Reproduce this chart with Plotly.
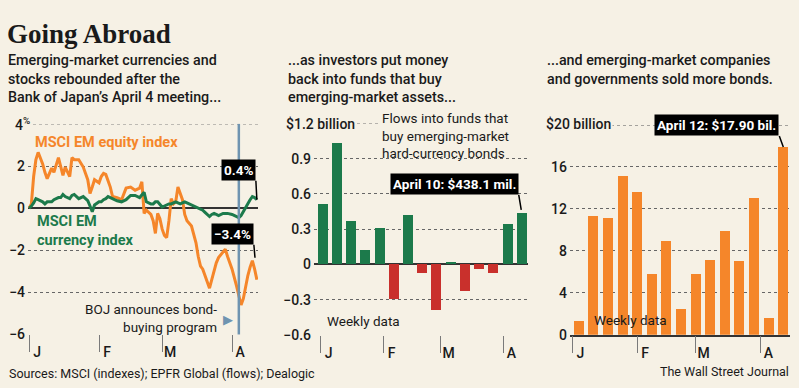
import plotly.graph_objects as go

# ---------------- data ----------------
line_dates = [
    "2013-01-01", "2013-01-02", "2013-01-03", "2013-01-04", "2013-01-05",
    "2013-01-07", "2013-01-08", "2013-01-09", "2013-01-11", "2013-01-12",
    "2013-01-14", "2013-01-15", "2013-01-16", "2013-01-17", "2013-01-19", "2013-01-20", "2013-01-21",
    "2013-01-23", "2013-01-25", "2013-01-27", "2013-01-28", "2013-01-29", "2013-01-30",
    "2013-02-01", "2013-02-02", "2013-02-03", "2013-02-04", "2013-02-05", "2013-02-06", "2013-02-07",
    "2013-02-09", "2013-02-11", "2013-02-13", "2013-02-15", "2013-02-17", "2013-02-19", "2013-02-20",
    "2013-02-21", "2013-02-22",
    "2013-02-24", "2013-02-25", "2013-02-26", "2013-02-27", "2013-02-28", "2013-03-01", "2013-03-02",
    "2013-03-03", "2013-03-04", "2013-03-05", "2013-03-06", "2013-03-07", "2013-03-08", "2013-03-09",
    "2013-03-10", "2013-03-11", "2013-03-12",
    "2013-03-14", "2013-03-15", "2013-03-16", "2013-03-17", "2013-03-18", "2013-03-19", "2013-03-20",
    "2013-03-22", "2013-03-23", "2013-03-24", "2013-03-25", "2013-03-26",
    "2013-03-28", "2013-03-29", "2013-03-30",
    "2013-04-01",
    "2013-04-03", "2013-04-04", "2013-04-05", "2013-04-06", "2013-04-07", "2013-04-08", "2013-04-09",
    "2013-04-10", "2013-04-11", "2013-04-12",
]
equity_pct = [
    0, 0.2, 1.5, 2.3, 2.65,
    2.1, 1.7, 1.4, 1.9, 1.7,
    2.4, 2.0, 1.55, 1.95, 1.5, 2.4, 2.3,
    2.3, 1.95, 1.35, 0.7, 1.0, 1.35,
    1.2, 1.5, 1.65, 1.6, 1.3, 1.0, 0.55,
    0.5, 0.4, 0.95, 1.0, 0.85, 0.95, 1.25, -0.25, -0.1,
    -0.3, -0.6, -1.2, -0.25, -0.5, -1.0, -1.3, -1.4, -0.6, 0.45, 0.2, 0.3, 1.0, 0.7, 0.4, -0.3, -0.6,
    -0.85, -1.3, -1.65, -2.3, -2.75, -2.9, -3.2,
    -3.8, -3.4, -3.0, -2.6, -2.35,
    -2.1, -1.95, -2.3,
    -2.9,
    -3.7, -4.2, -4.6, -4.3, -3.7, -3.2, -2.8, -2.5, -2.9, -3.4,
]
currency_pct = [
    0, 0.1, 0.25, 0.45, 0.4,
    0.3, 0.2, 0.3, 0.3, 0.4,
    0.5, 0.5, 0.65, 0.55, 0.45, 0.6, 0.65,
    0.45, 0.55, 0.35, 0.1, -0.17, 0.15,
    0.3, 0.3, 0.4, 0.45, 0.55, 0.5, 0.45,
    0.35, 0.3, 0.4, 0.6, 0.6, 0.5, 0.65, 0.75, 0.3,
    0.2, 0.2, 0.3, 0.3, 0.15, 0.05, 0.1, 0.15, 0.2, 0.2, 0.25, 0.3, 0.25, 0.2, 0.25, 0.3, 0.25,
    0.15, 0.1, 0.05, 0.0, -0.05, -0.1, -0.2,
    -0.4, -0.3, -0.25, -0.3, -0.35,
    -0.25, -0.25, -0.25,
    -0.3,
    -0.4, -0.45, -0.35, -0.15, 0.05, 0.2, 0.4, 0.55, 0.5, 0.4,
]
boj_date = "2013-04-04"

flow_dates = ["2013-01-02", "2013-01-09", "2013-01-16", "2013-01-23", "2013-01-30",
              "2013-02-06", "2013-02-13", "2013-02-20", "2013-02-27", "2013-03-06",
              "2013-03-13", "2013-03-20", "2013-03-27", "2013-04-03", "2013-04-10"]
flow_bil = [0.51, 1.03, 0.37, 0.12, 0.31, -0.30, 0.42, -0.08, -0.39, 0.02,
            -0.23, -0.04, -0.08, 0.34, 0.4381]

bond_dates = ["2013-01-04", "2013-01-11", "2013-01-18", "2013-01-25", "2013-02-01",
              "2013-02-08", "2013-02-15", "2013-02-22", "2013-03-01", "2013-03-08",
              "2013-03-15", "2013-03-22", "2013-03-29", "2013-04-05", "2013-04-12"]
bond_bil = [1.3, 11.3, 11.15, 15.1, 13.6, 5.8, 8.9, 2.4, 5.75, 7.1,
            9.9, 7.0, 13.0, 1.6, 17.90]

month_ticks = ["2013-01-01", "2013-02-01", "2013-03-01", "2013-04-01"]
month_labels = ["J", "F", "M", "A"]

pct_ticks = [-6, -4, -2, 0, 2]
pct_labels = ["−6", "−4", "−2", "0", "2"]
pct_top = 4
flow_ticks = [-0.6, -0.3, 0, 0.3, 0.6, 0.9]
flow_labels = ["−0.6", "−0.3", "0", "0.3", "0.6", "0.9"]
flow_top = 1.2
bond_ticks = [0, 4, 8, 12, 16]
bond_labels = ["0", "4", "8", "12", "16"]
bond_top = 20

# ---------------- style ----------------
W, H = 799, 388
BG = "#f6f1e5"
ORANGE = "#f5862a"
GREEN = "#1c7a4b"
RED = "#c9302c"
BLUE = "#6f94b0"
DARK = "#1a1a1a"
GRID = "#666"
SANS = "Roboto, 'Open Sans', sans-serif"
SERIF = "'Liberation Serif', 'DejaVu Serif', serif"


def px(x):
    return x / W


def py(y):
    return 1 - y / H


fig = go.Figure()

fig.add_trace(go.Scatter(x=line_dates, y=equity_pct, mode="lines",
                         line=dict(color=ORANGE, width=3), xaxis="x", yaxis="y",
                         hoverinfo="skip"))
fig.add_trace(go.Scatter(x=line_dates, y=currency_pct, mode="lines",
                         line=dict(color=GREEN, width=3), xaxis="x", yaxis="y",
                         hoverinfo="skip"))

fig.add_trace(go.Bar(x=flow_dates, y=flow_bil, xaxis="x2", yaxis="y2",
                     marker=dict(color=[GREEN if v >= 0 else RED for v in flow_bil], line_width=0),
                     width=4.9 * 86400000, hoverinfo="skip"))
fig.add_trace(go.Bar(x=bond_dates, y=bond_bil, xaxis="x3", yaxis="y3",
                     marker=dict(color=ORANGE, line_width=0),
                     width=4.8 * 86400000, hoverinfo="skip"))

tickfont = dict(family=SANS, size=14, color=DARK, weight=500)

xcommon = dict(type="date", tickvals=month_ticks, ticktext=month_labels,
               ticks="outside", ticklen=17, tickcolor="#7a7a7a", tickwidth=1.2,
               showgrid=False, zeroline=False, showline=False,
               tickfont=tickfont, ticklabelshift=8, ticklabelstandoff=-12)
ycommon = dict(showgrid=True, gridcolor=GRID, griddash="dot", gridwidth=1,
               tickfont=tickfont, ticks="", ticklabelstandoff=2, showline=False)

fig.update_layout(
    width=W, height=H, margin=dict(l=0, r=0, t=0, b=0),
    paper_bgcolor=BG, plot_bgcolor=BG, showlegend=False, bargap=0,
    xaxis=dict(domain=[px(28), px(258)], range=["2012-12-31 12:00", "2013-04-12 12:00"],
               anchor="y", **xcommon),
    yaxis=dict(domain=[py(341.5), py(126.5)], range=[-6, 4], anchor="x",
               tickvals=pct_ticks, ticktext=pct_labels,
               zeroline=True, zerolinecolor="#333", zerolinewidth=1.5, **ycommon),
    xaxis2=dict(domain=[px(314), px(528)], range=["2012-12-28 17:00", "2013-04-13 02:00"],
                anchor="y2", **xcommon),
    yaxis2=dict(domain=[py(342), py(126)], range=[-0.6, 1.2], anchor="x2",
                tickvals=flow_ticks, ticktext=flow_labels,
                zeroline=True, zerolinecolor="#333", zerolinewidth=1.5, **ycommon),
    xaxis3=dict(domain=[px(570), px(790)], range=["2012-12-30 20:00", "2013-04-15 05:00"],
                anchor="y3", **{**xcommon, "showline": True, "linecolor": "#333", "linewidth": 1.5}),
    yaxis3=dict(domain=[py(341.7), py(127.7)], range=[0, 20], anchor="x3",
                tickvals=bond_ticks, ticktext=bond_labels,
                zeroline=False, **ycommon),
)

# top dotted gridlines (partial, like the original)
fig.add_shape(type="line", xref="paper", yref="y", x0=px(33), x1=px(258), y0=pct_top, y1=pct_top,
              line=dict(color=GRID, width=1, dash="dot"))
fig.add_shape(type="line", xref="paper", yref="y2", x0=px(357), x1=px(379), y0=flow_top, y1=flow_top,
              line=dict(color=GRID, width=1, dash="dot"))
fig.add_shape(type="line", xref="paper", yref="y3", x0=px(605), x1=px(790), y0=bond_top, y1=bond_top,
              line=dict(color=GRID, width=1, dash="dot"))
# BOJ vertical line
fig.add_shape(type="line", xref="x", yref="paper", x0=boj_date, x1=boj_date,
              y0=py(341.5), y1=py(126.5), line=dict(color=BLUE, width=2.5), layer="above")

ann = []


def text(x, y, s, size=15, color=DARK, xanchor="left", yanchor="middle", align="left",
         family=SANS, weight=500, bg=None, pad=0):
    a = dict(x=px(x), y=py(y), xref="paper", yref="paper", text=s, showarrow=False,
             xanchor=xanchor, yanchor=yanchor, align=align,
             font=dict(family=family, size=size, color=color, weight=weight), borderpad=pad)
    if bg:
        a["bgcolor"] = bg
    ann.append(a)


text(6, 35, "Going Abroad", size=27, family=SERIF, weight=700)
text(7, 52, "Emerging-market currencies and<br>stocks rebounded after the<br>Bank of Japan’s April 4 meeting...",
     size=14.3, yanchor="top")
text(287, 52, "...as investors put money<br>back into funds that buy<br>emerging-market assets...",
     size=14.3, yanchor="top")
text(546, 52, "...and emerging-market companies<br>and governments sold more bonds.",
     size=14.3, yanchor="top")

text(13, 127, "4<sup>%</sup>", size=14, bg=BG, pad=1)
text(284, 127, "$1.2 billion", size=14, bg=BG, pad=1)
text(544, 127, "$20 billion", size=14, bg=BG, pad=1)

text(34, 146, "MSCI EM equity index", size=14.5, color=ORANGE, weight=700)
text(36, 236, "MSCI EM<br>currency index", size=14.5, color=GREEN, weight=700)
text(218, 325, "BOJ announces bond-<br>buying program", size=13.5, xanchor="right", align="right",
     weight=400)
text(222, 326, "▶", size=13, color=BLUE, weight=400)

text(381, 138, "Flows into funds that<br>buy emerging-market<br>hard-currency bonds", size=13.5,
     weight=400)
text(326, 328, "Weekly data", size=13.5, weight=400)
text(593, 327, "Weekly data", size=13.5, weight=400)

text(8, 381, "Sources: MSCI (indexes); EPFR Global (flows); Dealogic", size=12.5, weight=400)
text(790, 379, "The Wall Street Journal", size=12.5, xanchor="right", weight=400)


def callout(xref, yref, x, y, s, ax, ay, standoff=0):
    ann.append(dict(x=x, y=y, xref=xref, yref=yref, text="<b>" + s + "</b>", showarrow=True,
                    arrowhead=0, arrowwidth=1.5, arrowcolor="black", ax=ax, ay=ay,
                    xanchor="right", yanchor="bottom", standoff=standoff,
                    bgcolor="black", borderpad=2,
                    font=dict(family=SANS, size=13.5, color="white")))


callout("x", "y", line_dates[-1], currency_pct[-1], "0.4%", -1, -19)
callout("x", "y", line_dates[-1], equity_pct[-1], "−3.4%", -3, -35, standoff=22)
callout("x2", "y2", flow_dates[-1], flow_bil[-1], "April 10: $438.1 mil.", -3, -18, standoff=3)
callout("x3", "y3", bond_dates[-1], bond_bil[-1], "April 12: $17.90 bil.", -4, -11)

fig.update_layout(annotations=ann)

page_fix = (
    "document.documentElement.style.margin='0';"
    "document.documentElement.style.overflow='hidden';"
    "document.body.style.margin='0';"
    "document.body.style.overflow='hidden';"
    "document.body.style.height='388px';"
    "var d=document.getElementById('{plot_id}');"
    "d.style.display='block';"
    "d.parentElement.style.height='388px';"
    "d.parentElement.style.overflow='hidden';"
)
fig.write_html("out.html", config={"displayModeBar": False}, post_script=page_fix)
